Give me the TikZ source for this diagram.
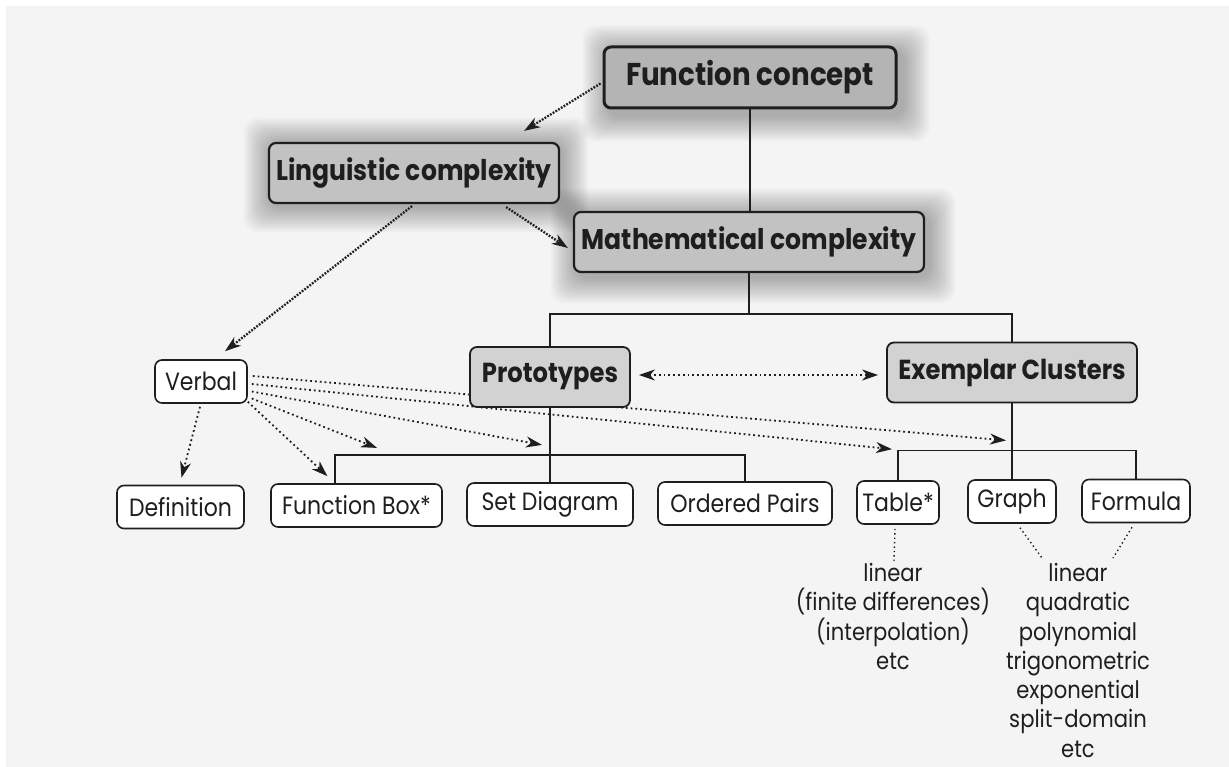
\documentclass[tikz,border=0pt]{standalone}
\usepackage{fontspec}
\setmainfont{Poppins}[FakeStretch=0.88]
\usetikzlibrary{arrows.meta,calc}
\pgfdeclarelayer{halo}
\pgfdeclarelayer{links}
\pgfsetlayers{halo,links,main}
\definecolor{ink}{HTML}{1E1E1E}
\definecolor{paper}{HTML}{F4F4F4}
\definecolor{topfill}{HTML}{B4B4B4}
\definecolor{keyfill}{HTML}{C2C2C2}
\definecolor{subfill}{HTML}{D2D2D2}
% soft grey glow around a node
\newcommand\glow[3]{%
  \foreach \k in {26,24,...,2}
    \fill[black,opacity=0.022,rounded corners=14pt]
      ([shift={(-\k+#2,-\k+#3)}]#1.north west) rectangle ([shift={(\k+#2,\k+#3)}]#1.south east);}
\begin{document}
\begin{tikzpicture}[x=1pt,y=-1pt,
  leaf/.style={draw=ink,line width=1.6pt,rounded corners=7pt,fill=white,inner sep=0pt,
    minimum height=43pt,text=ink,font=\fontsize{25}{30}\selectfont},
  keybox/.style={leaf,fill=keyfill,line width=2.2pt,minimum height=60pt,
    font=\fontsize{28.5}{32}\selectfont\bfseries},
  topbox/.style={keybox,fill=topfill,line width=3pt,minimum height=61pt,
    font=\fontsize{31.5}{34}\selectfont\bfseries},
  subbox/.style={keybox,fill=subfill,line width=1.8pt,font=\fontsize{27.5}{32}\selectfont\bfseries},
  notes/.style={align=center,text=ink,inner sep=0pt,font=\fontsize{24}{29.3}\selectfont},
  tree/.style={draw=ink,line width=1.8pt},
  tip/.style={-{Stealth[length=16pt,width=11pt,inset=5pt]}},
  heavydots/.style={draw=ink,line width=2.3pt,dash pattern=on 1.8pt off 1.4pt,tip},
  lightdots/.style={draw=ink,line width=1.8pt,dash pattern=on 1.8pt off 3pt,tip},
  fine/.style={draw=ink,line width=1.4pt,dash pattern=on 1.4pt off 3pt},
]
\useasboundingbox (0,0) rectangle (1229,767);

% main concepts
\node[topbox,minimum width=292pt] (FC) at (750,77.5) {Function concept};
\node[keybox,minimum width=290pt] (LC) at (414,173) {Linguistic complexity};
\node[keybox,minimum width=350pt] (MC) at (749,242) {Mathematical complexity};
\node[subbox,minimum width=160pt] (Proto) at (550,377) {Prototypes};
\node[subbox,minimum width=250pt] (Exem) at (1012,372.5) {Exemplar Clusters};

% representations
\node[leaf,minimum width=92pt] (Verbal) at (201,381.5) {Verbal};
\node[leaf,minimum width=127pt] (Def) at (180.5,507) {Definition};
\node[leaf,minimum width=171pt] (FB) at (356.5,505.5) {Function Box*};
\node[leaf,minimum width=166pt] (SD) at (550,504.5) {Set Diagram};
\node[leaf,minimum width=174pt] (OP) at (745,503.5) {Ordered Pairs};
\node[leaf,minimum width=82pt] (Table) at (898,502.5) {Table*};
\node[leaf,minimum width=88pt] (Graph) at (1012,501.5) {Graph};
\node[leaf,minimum width=108pt] (Formula) at (1136,501) {Formula};

% examples
\node[notes,anchor=north] (tabnotes) at (893,563) {linear\\(finite differences)\\(interpolation)\\etc};
\node[notes,anchor=north] (graphnotes) at (1078,563) {linear\\quadratic\\polynomial\\trigonometric\\exponential\\split-domain\\etc};

% branch points
\path (MC.south) ++(0,41) coordinate (mcbar);
\path (Proto.south) ++(0,47) coordinate (pbar);
\path (Exem.south) ++(0,47) coordinate (ebar);

\begin{pgfonlayer}{halo}
  \fill[white] (0,0) rectangle (1229,767);
  \fill[paper] (6,6) rectangle (1229,767);
  \glow{FC}{6}{6}
  \glow{LC}{2}{2}
  \glow{MC}{4}{4}
\end{pgfonlayer}

\begin{pgfonlayer}{links}
  % hierarchy
  \draw[tree] (FC.south) -- (FC.south |- MC.north);
  \draw[tree] (MC.south) -- (mcbar);
  \draw[tree] (Proto.north) |- (mcbar) -| (Exem.north);
  \draw[tree] (Proto.south) -- (SD.north);
  \draw[tree] ([xshift=-21.5pt]FB.north) |- (pbar) -| (OP.north);
  \draw[tree] (Exem.south) -- (Graph.north);
  \draw[tree] (Table.north) |- (ebar) -| (Formula.north);

  % influences
  \draw[heavydots] ([shift={(-2,6)}]FC.west) -- ([shift={(-36,-11)}]LC.north east);
  \draw[heavydots] ([shift={(-54,3)}]LC.south east) -- ([shift={(-5,6)}]MC.west);
  \draw[heavydots] ([shift={(-2,2)}]LC.south) -- ([shift={(24,-8)}]Verbal.north);
  \draw[lightdots,{Stealth[length=16pt,width=11pt,inset=5pt]}-{Stealth[length=16pt,width=11pt,inset=5pt]}]
    ([shift={(8,-2)}]Proto.east) -- ([shift={(-8,2.5)}]Exem.west);

  % verbal links
  \coordinate (toEx) at ([shift={(-6,-10)}]ebar);
  \coordinate (toTab) at ([shift={(-6,-31)}]Table.north);
  \coordinate (toSD) at ([shift={(-8,-10)}]pbar);
  \coordinate (toFB) at ([shift={(-173,-7)}]pbar);
  \draw[lightdots] ([shift={(5,-5.5)}]Verbal.east) -- (toEx);
  \draw[lightdots] ([shift={(4,2.5)}]Verbal.east) -- (toTab);
  \draw[lightdots] ([shift={(4,10)}]Verbal.east) -- (toSD);
  \draw[lightdots] ([shift={(4,17)}]Verbal.east) -- (toFB);
  \draw[lightdots] ([shift={(0,-2)}]Verbal.south east) -- ([shift={(-29,-7)}]FB.north);
  \draw[lightdots] ([shift={(-1,3)}]Verbal.south) -- ([shift={(1,-7)}]Def.north);

  % examples
  \draw[fine] ([shift={(-3,4)}]Table.south) -- ([shift={(1,-2)}]tabnotes.north);
  \draw[fine] ([shift={(8,4)}]Graph.south) -- ([shift={(-36,-5)}]graphnotes.north);
  \draw[fine] ([shift={(-4,4)}]Formula.south) -- ([shift={(35,-5)}]graphnotes.north);
\end{pgfonlayer}
\end{tikzpicture}
\end{document}
